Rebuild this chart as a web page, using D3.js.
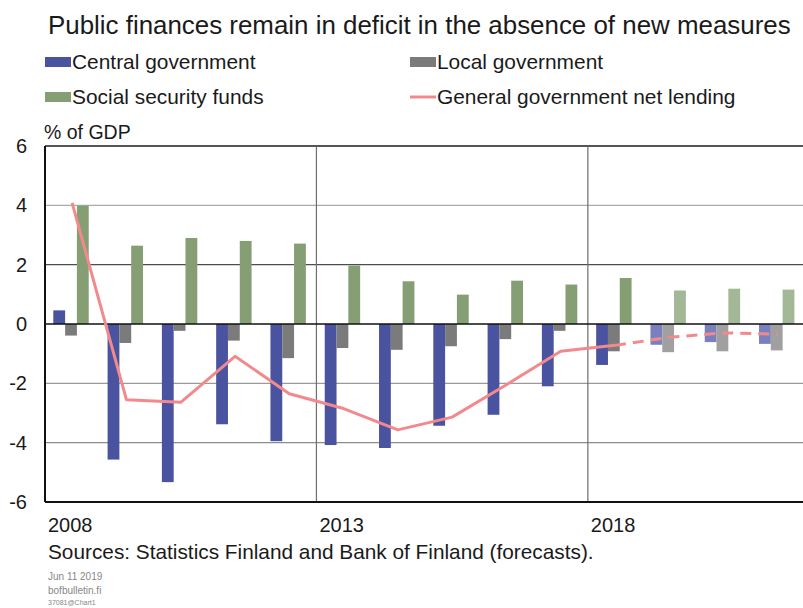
<!DOCTYPE html>
<html>
<head>
<meta charset="utf-8">
<script src="https://cdn.jsdelivr.net/npm/d3@7"></script>
<style>
  html, body { margin: 0; padding: 0; background: #fff; }
  svg { display: block; }
  text { font-family: "Liberation Sans", Arial, sans-serif; fill: #1a1a1a; }
</style>
</head>
<body>
<svg id="chart" width="803" height="608"></svg>
<script>
// Years on the category axis; 2019 onwards are forecasts
const years = [2008, 2009, 2010, 2011, 2012, 2013, 2014, 2015, 2016, 2017, 2018, 2019, 2020, 2021];
const firstForecastYear = 2019;

// Net lending by sector, % of GDP
const centralGovernment = [0.46, -4.57, -5.33, -3.38, -3.95, -4.08, -4.18, -3.43, -3.06, -2.10, -1.38, -0.70, -0.61, -0.67];
const localGovernment   = [-0.39, -0.64, -0.23, -0.56, -1.15, -0.81, -0.87, -0.75, -0.51, -0.23, -0.92, -0.95, -0.92, -0.89];
const socialSecurity    = [3.99, 2.64, 2.90, 2.80, 2.71, 1.97, 1.44, 0.99, 1.46, 1.33, 1.55, 1.13, 1.19, 1.16];
const generalGovernment = [4.08, -2.55, -2.64, -1.09, -2.35, -2.85, -3.57, -3.14, -2.05, -0.92, -0.72, -0.45, -0.30, -0.34];

const yTicks = [-6, -4, -2, 0, 2, 4, 6];
const xLabelYears = [2008, 2013, 2018];

const seriesNames = ["Central government", "Local government", "Social security funds"];
const lineName = "General government net lending";
const titleText = "Public finances remain in deficit in the absence of new measures";
const sourceText = "Sources: Statistics Finland and Bank of Finland (forecasts).";
const footLines = ["Jun 11 2019", "bofbulletin.fi", "37081@Chart1"];

const colors = {
  actual:   ["#4a539f", "#7b7b7b", "#859e74"],
  forecast: ["#7a80bd", "#a0a0a0", "#a3b897"],
  line: "#f28a8d"
};

const svg = d3.select("#chart");

// Plot frame
const plot = { left: 45, right: 805, top: 146, bottom: 502 };

const x = d3.scaleBand().domain(years).range([plot.left, plot.right]).paddingInner(0).paddingOuter(0);
const xSub = d3.scaleBand().domain([0, 1, 2]).range([0, x.bandwidth()])
  .paddingInner(0).paddingOuter(0.8).align(0.44);
const y = d3.scaleLinear().domain([-6, 6]).range([plot.bottom, plot.top]);

// Title
svg.append("text")
  .attr("x", 48).attr("y", 34)
  .attr("font-size", 25.9)
  .text(titleText);

// Legend
const legendItems = [
  { name: seriesNames[0], type: "rect", color: colors.actual[0], x: 45, y: 62 },
  { name: seriesNames[1], type: "rect", color: colors.actual[1], x: 410, y: 62 },
  { name: seriesNames[2], type: "rect", color: colors.actual[2], x: 45, y: 97 },
  { name: lineName, type: "line", color: colors.line, x: 410, y: 97 }
];
const lg = svg.append("g");
legendItems.forEach(it => {
  if (it.type === "rect") {
    lg.append("rect").attr("x", it.x).attr("y", it.y - 5).attr("width", 26).attr("height", 10).attr("fill", it.color);
  } else {
    lg.append("line").attr("x1", it.x).attr("x2", it.x + 26).attr("y1", it.y).attr("y2", it.y)
      .attr("stroke", it.color).attr("stroke-width", 3);
  }
  lg.append("text").attr("x", it.x + 27).attr("y", it.y + 7).attr("font-size", 20.9).text(it.name);
});

// Axis caption
svg.append("text").attr("x", 44).attr("y", 139).attr("font-size", 19.5).text("% of GDP");

// Horizontal gridlines
const gridColor = { "-4": "#8c8c8c", "-2": "#9a9a9a", "2": "#4d4d4d", "4": "#ababab" };
svg.append("g").selectAll("line")
  .data(yTicks.filter(t => t !== 0 && Math.abs(t) !== 6))
  .join("line")
  .attr("x1", plot.left).attr("x2", plot.right)
  .attr("y1", d => y(d)).attr("y2", d => y(d))
  .attr("stroke", d => gridColor[d]).attr("stroke-width", 1.2);

// Vertical gridlines at 5-year marks
svg.append("g").selectAll("line")
  .data(xLabelYears.slice(1))
  .join("line")
  .attr("x1", d => x(d)).attr("x2", d => x(d))
  .attr("y1", plot.top).attr("y2", plot.bottom)
  .attr("stroke", "#6e6e6e").attr("stroke-width", 1.2);

// Top frame line
svg.append("line").attr("x1", plot.left).attr("x2", plot.right)
  .attr("y1", y(6)).attr("y2", y(6)).attr("stroke", "#555").attr("stroke-width", 2);

// Bars
const seriesData = [centralGovernment, localGovernment, socialSecurity];
const bars = svg.append("g");
seriesData.forEach((vals, si) => {
  bars.selectAll(null)
    .data(years.map((yr, i) => ({ yr, v: vals[i] })))
    .join("rect")
    .attr("x", d => x(d.yr) + xSub(si))
    .attr("width", xSub.bandwidth())
    .attr("y", d => y(Math.max(0, d.v)))
    .attr("height", d => Math.abs(y(d.v) - y(0)))
    .attr("fill", d => d.yr >= firstForecastYear ? colors.forecast[si] : colors.actual[si]);
});

// Zero line
svg.append("line").attr("x1", plot.left).attr("x2", plot.right)
  .attr("y1", y(0)).attr("y2", y(0)).attr("stroke", "#111").attr("stroke-width", 1.6);

// Net lending line: solid for outturn, dashed for forecast
const pts = years.map((yr, i) => ({ yr, v: generalGovernment[i] }));
const line = d3.line().x(d => x(d.yr) + x.bandwidth() / 2).y(d => y(d.v));
svg.append("path")
  .datum(pts.filter(d => d.yr <= firstForecastYear - 1))
  .attr("d", line).attr("fill", "none")
  .attr("stroke", colors.line).attr("stroke-width", 3).attr("stroke-linejoin", "round");
svg.append("path")
  .datum(pts.filter(d => d.yr >= firstForecastYear - 1))
  .attr("d", line).attr("fill", "none")
  .attr("stroke", colors.line).attr("stroke-width", 3)
  .attr("stroke-dasharray", "11,7");

// Left axis and bottom frame
svg.append("line").attr("x1", plot.left).attr("x2", plot.left)
  .attr("y1", plot.top).attr("y2", plot.bottom).attr("stroke", "#111").attr("stroke-width", 2);
svg.append("line").attr("x1", plot.left).attr("x2", plot.right)
  .attr("y1", plot.bottom).attr("y2", plot.bottom).attr("stroke", "#111").attr("stroke-width", 2.2);

// Y tick labels
svg.append("g").selectAll("text")
  .data(yTicks)
  .join("text")
  .attr("x", 27).attr("y", d => y(d) + 7)
  .attr("text-anchor", "end").attr("font-size", 20)
  .text(d => d);

// X labels
svg.append("g").selectAll("text")
  .data(xLabelYears)
  .join("text")
  .attr("x", d => x(d) + 3).attr("y", 532)
  .attr("font-size", 20)
  .text(d => d);

// Source line
svg.append("text").attr("x", 48).attr("y", 559).attr("font-size", 20.8).text(sourceText);

// Footer
svg.append("g").selectAll("text")
  .data(footLines)
  .join("text")
  .attr("x", 48).attr("y", (d, i) => [580, 594, 605][i])
  .attr("font-size", (d, i) => i === 2 ? 7 : 10)
  .style("fill", "#888")
  .text(d => d);
</script>
</body>
</html>
